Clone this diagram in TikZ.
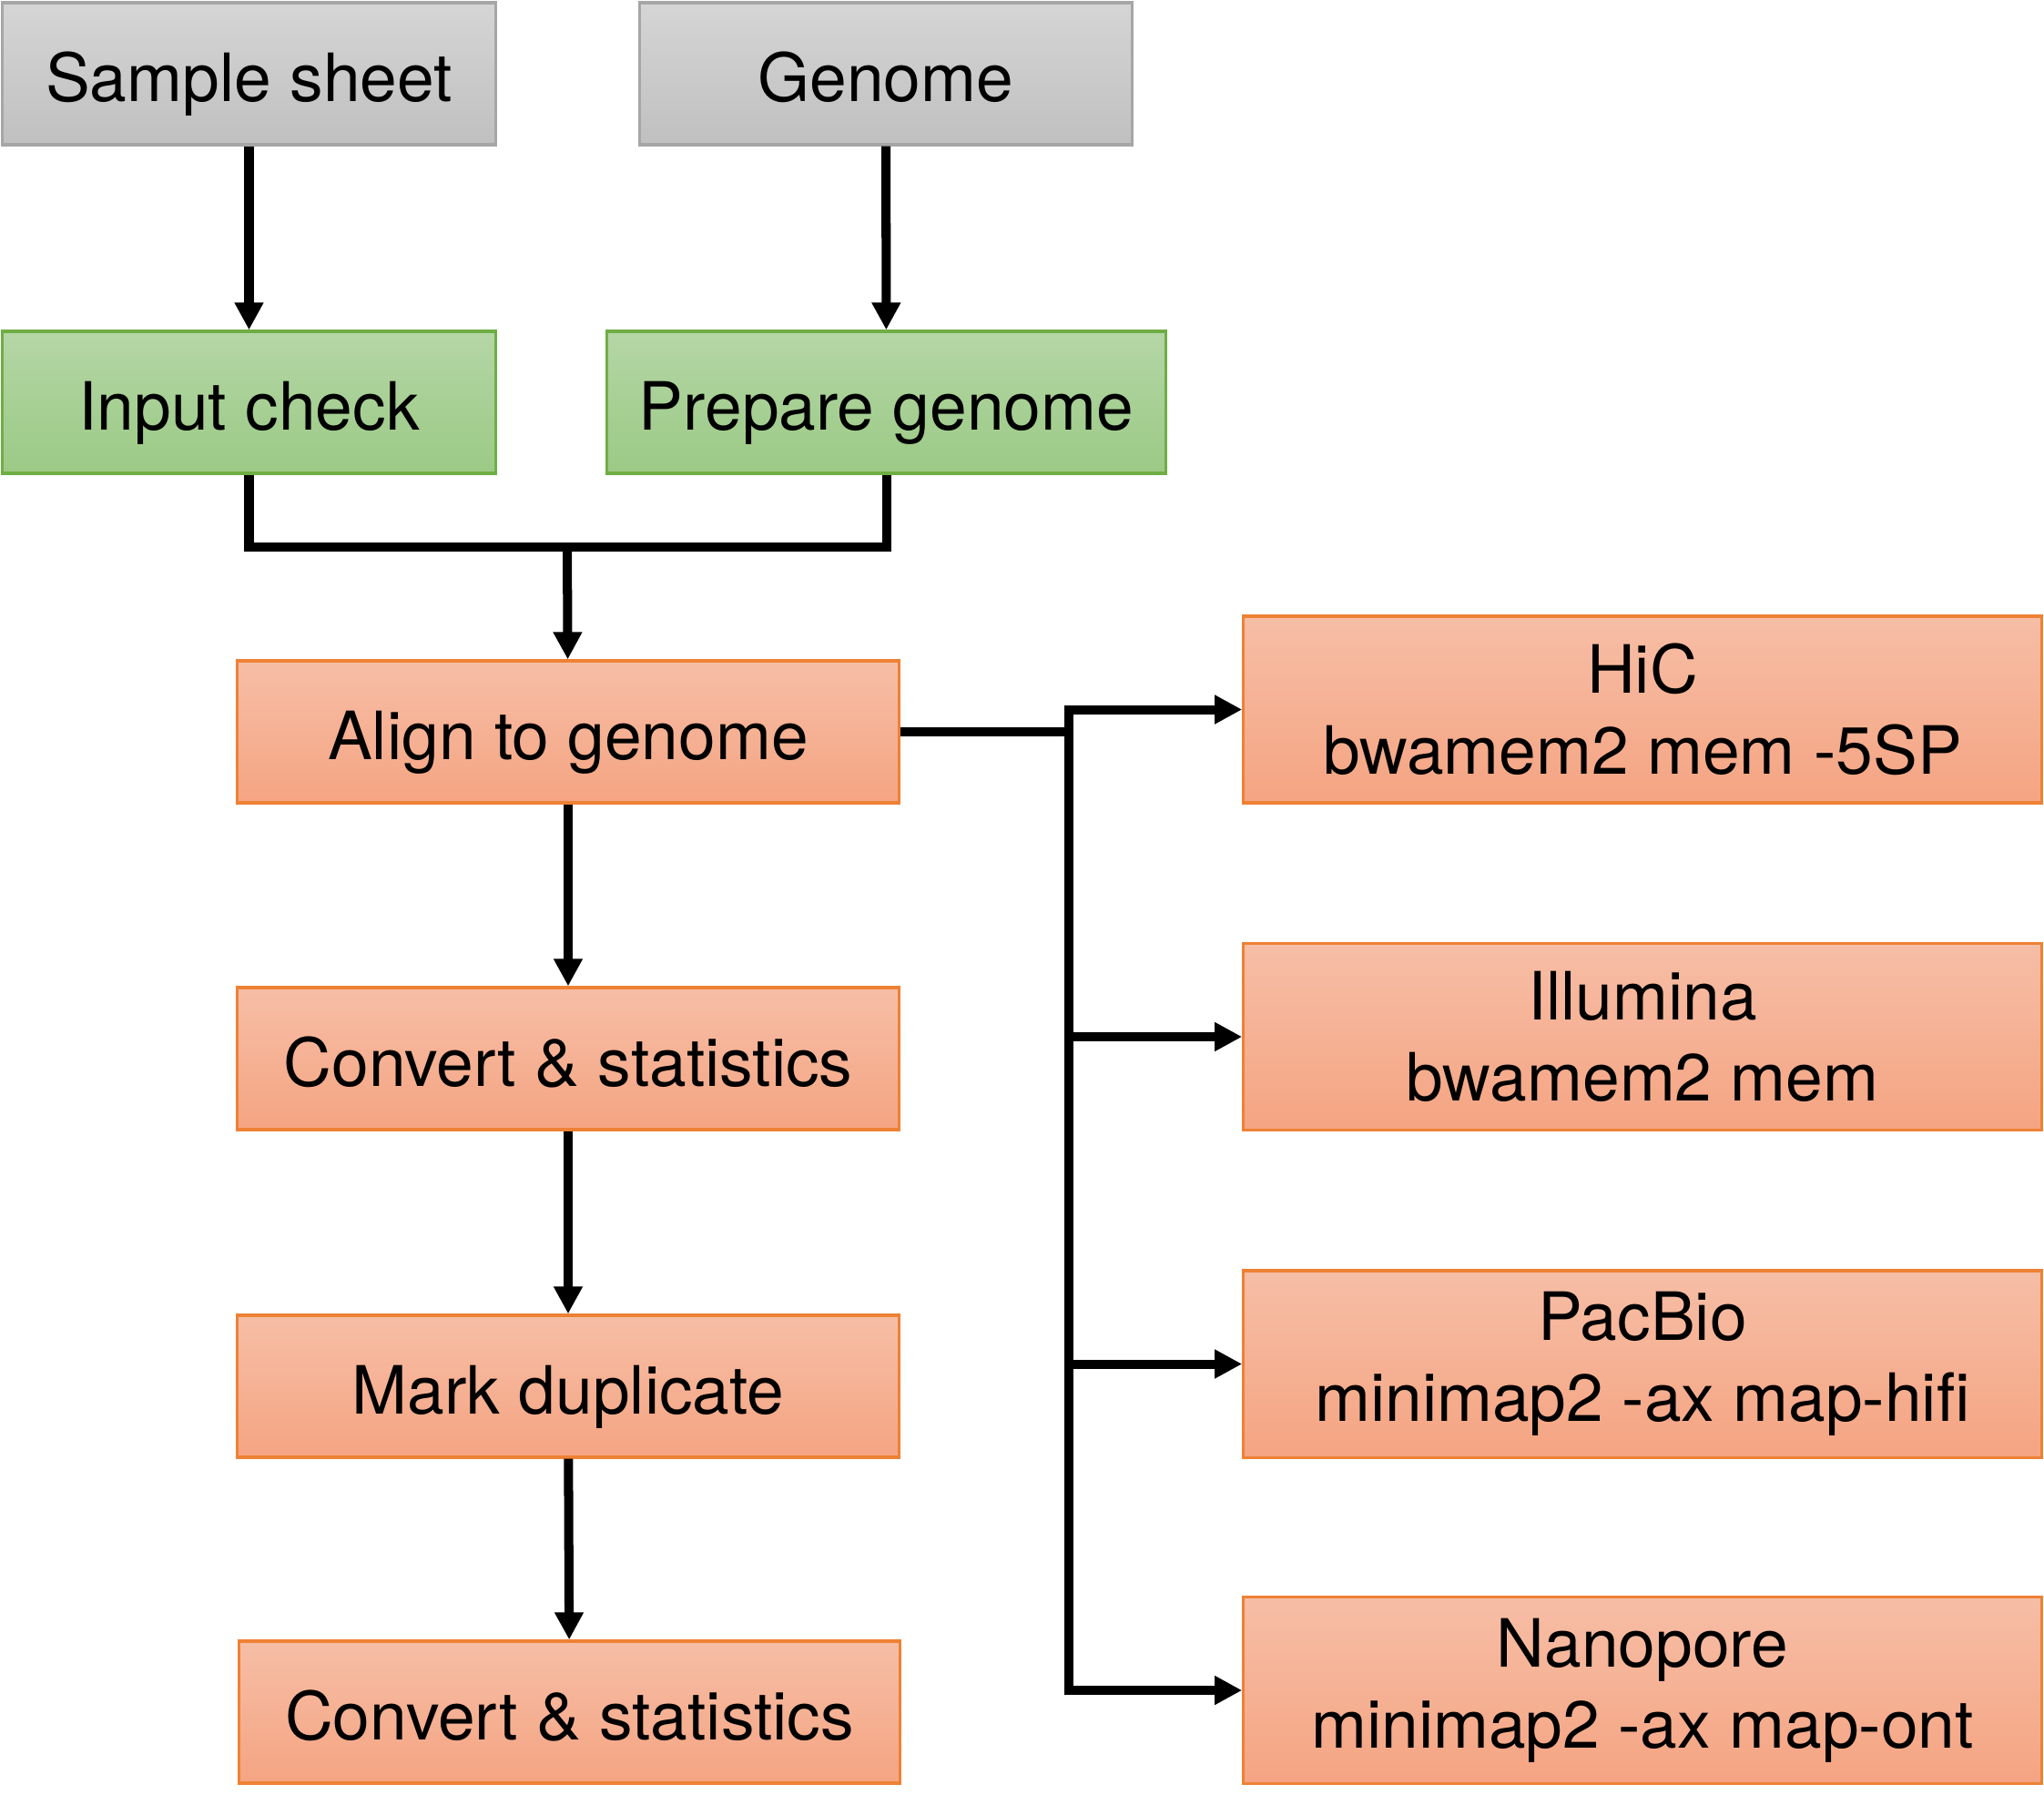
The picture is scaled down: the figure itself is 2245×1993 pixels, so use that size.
\documentclass[tikz,border=0pt]{standalone}
\usepackage{fontspec}
\setmainfont{TeX Gyre Heros}
\usetikzlibrary{calc}
\usetikzlibrary{arrows.meta}

\definecolor{greytop}{HTML}{D5D5D5}
\definecolor{greybot}{HTML}{C0C0C0}
\definecolor{greyline}{HTML}{A6A6A6}
\definecolor{greentop}{HTML}{B5D6A6}
\definecolor{greenbot}{HTML}{9BCA85}
\definecolor{greenline}{HTML}{6FAE45}
\definecolor{orangetop}{HTML}{F6BEA6}
\definecolor{orangebot}{HTML}{F5A482}
\definecolor{orangeline}{HTML}{EE8135}

\begin{document}
\begin{tikzpicture}[x=0.01cm,y=-0.01cm,
                    box/.style={rectangle,inner sep=0pt,line width=0.9pt,align=center,
                                font=\fontsize{20.8}{25.3}\selectfont,minimum height=15.6mm},
                    oneline/.style={text height=17.5pt,text depth=0pt},
                    greybox/.style={box,oneline,draw=greyline,top color=greytop,bottom color=greybot,minimum width=54.1mm},
                    greenbox/.style={box,oneline,draw=greenline,top color=greentop,bottom color=greenbot},
                    stepbox/.style={box,draw=orangeline,top color=orangetop,bottom color=orangebot,minimum width=72.6mm},
                    toolbox/.style={stepbox,minimum width=87.6mm,minimum height=20.5mm},
                    flow/.style={line width=2.85pt,-{Triangle[length=3mm,width=3mm]}},
                    link/.style={line width=2.85pt}]
                    \useasboundingbox (0,0) rectangle (2245,1993);

                    % inputs
                    \node[greybox] (sheet) at (273.5,81) {Sample sheet};
                    \node[greybox] (genome) at (973,81) {Genome};

                    \node[greenbox,minimum width=54.1mm] (check) at (273.5,442) {Input check};
                    \node[greenbox,minimum width=61.3mm] (prepare) at (973.5,442) {Prepare genome};

                    \draw[flow] (sheet) -- (check);
                    \draw[flow] (genome) -- (prepare);

                    % main steps
                    \node[stepbox,oneline] (align) at (624,804) {Align to genome};
                    \node[stepbox,oneline] (convert) at (624,1163) {Convert \& statistics};
                    \node[stepbox,oneline] (markdup) at (624,1523) {Mark duplicate};
                    \node[stepbox,oneline] (convertb) at (625.5,1881) {Convert \& statistics};

                    \coordinate (merge) at (623,601);
                    \draw[link] (check.south) |- (merge) -| (prepare.south);
                    \draw[flow] (merge) -- (align);

                    \draw[flow] (align) -- (convert);
                    \draw[flow] (convert) -- (markdup);
                    \draw[flow] (markdup) -- (convertb);

                    % aligners
                    \node[toolbox] (hic) at (1804,779.5) {HiC\\bwamem2 mem -5SP};
                    \node[toolbox] (illumina) at (1804,1139) {Illumina\\bwamem2 mem};
                    \node[toolbox] (pacbio) at (1804,1498.5) {PacBio\\minimap2 -ax map-hifi};
                    \node[toolbox] (nanopore) at (1804,1857) {Nanopore\\minimap2 -ax map-ont};

                    \coordinate (bus) at (1174,804);
                    \draw[link] (align.east) -- (bus);
                    \draw[flow] (bus) |- (hic.west);
                    \draw[flow] (bus) |- (illumina.west);
                    \draw[flow] (bus) |- (pacbio.west);
                    \draw[flow] (bus) |- (nanopore.west);
\end{tikzpicture}
\end{document}
